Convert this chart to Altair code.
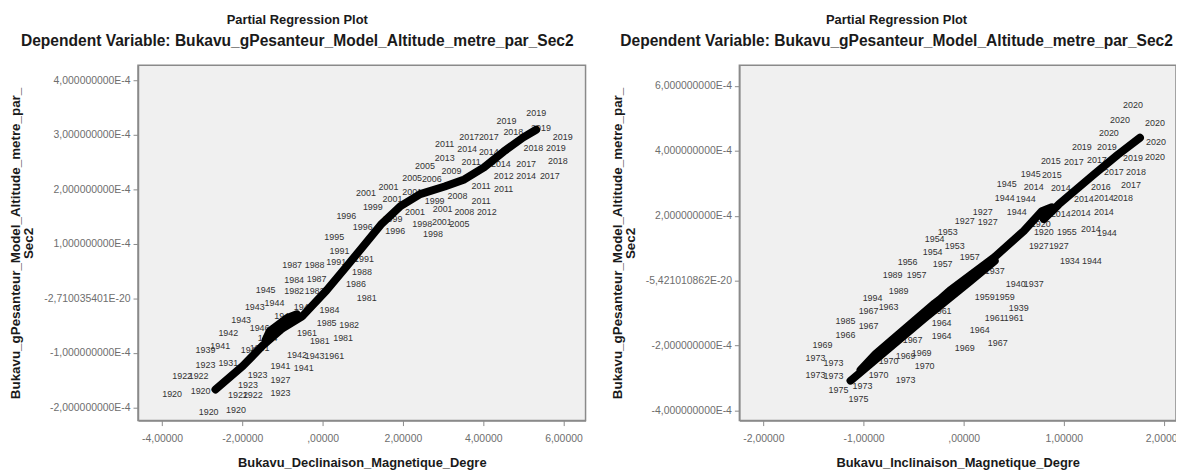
import json
import altair as alt
import pandas as pd

FONT = "Liberation Sans"

# ---------------- Left panel data (x: degrees, y: units of 1e-4) ----------------
left_years = [2019, 2019, 2019, 2019, 2017, 2017, 2018, 2011, 2014, 2014, 2018, 2019,
              2013, 2011, 2014, 2017, 2018, 2005, 2009, 2012, 2014, 2017, 2005, 2006,
              2011, 2011, 2001, 2001, 2001, 2001, 1999, 2008, 2011, 1999, 2001, 2001,
              2008, 2012, 1999, 1998, 2001, 2005, 1996, 1996, 1998, 1996, 1995, 1991,
              1987, 1988, 1991, 1991, 1988, 1986, 1981, 1984, 1987, 1945, 1982, 1982,
              1943, 1944, 1946, 1943, 1944, 1942, 1961, 1985, 1984, 1982, 1939, 1941,
              1981, 1981, 1942, 1942, 1943, 1961, 1923, 1931, 1941, 1941, 1922, 1922,
              1923, 1927, 1920, 1920, 1923, 1922, 1922, 1923, 1920, 1920, 1946, 1944, 1941]
left_x = [5.32, 4.58, 5.44, 5.98, 3.65, 4.14, 4.75, 3.04, 3.60, 4.14, 5.25, 5.81,
          3.04, 3.70, 4.44, 5.07, 5.86, 2.55, 3.21, 4.51, 5.07, 5.66, 2.23, 2.72,
          3.95, 4.51, 1.64, 1.08, 2.23, 1.74, 2.79, 3.36, 3.95, 1.25, 2.30, 2.99,
          3.53, 4.09, 1.74, 2.48, 2.97, 3.41, 1.00, 1.81, 2.75, 0.59, 0.29, 0.42,
          -0.76, -0.20, 0.34, 1.03, 0.98, 0.83, 1.10, -0.71, -0.15, -1.42, -0.71, -0.20,
          -1.69, -1.20, -0.47, -2.03, -0.96, -2.35, -0.39, 0.10, 0.17, 0.66, -2.92, -2.55,
          -0.07, 0.51, -1.79, -0.64, -0.20, 0.29, -2.92, -2.35, -1.05, -0.47, -3.50, -3.09,
          -1.62, -1.05, -3.75, -3.04, -1.86, -2.11, -1.74, -1.05, -2.84, -2.16, -1.57, -1.37, -1.57]
left_y = [3.40, 3.25, 3.13, 2.96, 2.96, 2.95, 3.04, 2.82, 2.73, 2.69, 2.75, 2.75,
          2.58, 2.49, 2.47, 2.47, 2.51, 2.42, 2.33, 2.24, 2.24, 2.24, 2.20, 2.18,
          2.05, 2.00, 2.04, 1.93, 1.95, 1.82, 1.78, 1.87, 1.78, 1.67, 1.58, 1.64,
          1.58, 1.58, 1.45, 1.36, 1.40, 1.36, 1.31, 1.24, 1.18, 1.51, 1.13, 0.87,
          0.62, 0.62, 0.67, 0.73, 0.49, 0.27, 0.00, 0.33, 0.36, 0.15, 0.13, 0.13,
          -0.15, -0.09, -0.15, -0.40, -0.33, -0.64, -0.64, -0.45, -0.22, -0.49, -0.95, -0.87,
          -0.78, -0.73, -0.95, -1.04, -1.05, -1.05, -1.22, -1.18, -1.24, -1.27, -1.42, -1.42,
          -1.40, -1.49, -1.76, -1.69, -1.58, -1.78, -1.78, -1.73, -2.09, -2.05, -0.55, -0.73, -0.91]

left_line_x = [-2.67, -1.99, -1.50, -1.08, -0.64, -0.88, -1.32, -1.42, -1.00, -0.51,
               0.10, 0.59, 0.96, 1.45, 1.94, 2.43, 3.04, 3.53, 4.02, 4.51, 5.00, 5.32]
left_line_y = [-1.67, -1.24, -0.87, -0.60, -0.29, -0.36, -0.60, -0.76, -0.55, -0.33,
               0.15, 0.58, 0.91, 1.35, 1.69, 1.91, 2.05, 2.18, 2.40, 2.69, 2.95, 3.09]

left_xticks = [-4, -2, 0, 2, 4, 6]
left_xlabels = ["-4,00000", "-2,00000", ",00000", "2,00000", "4,00000", "6,00000"]
left_yticks = [4, 3, 2, 1, 0, -1, -2]
left_ylabels = ["4,000000000E-4", "3,000000000E-4", "2,000000000E-4", "1,000000000E-4",
                "-2,710035401E-20", "-1,000000000E-4", "-2,000000000E-4"]

# ---------------- Right panel data ----------------
right_years = [2020, 2020, 2020, 2020, 2019, 2019, 2020, 2015, 2017, 2017, 2019, 1945,
               2015, 2017, 2018, 1945, 2014, 2014, 2016, 2017, 1944, 1944, 2014, 2014,
               2018, 1927, 1944, 2014, 2014, 2014, 1927, 1927, 1920, 1953, 1920, 1955,
               2014, 1944, 1954, 1954, 1956, 1957, 1989, 1957, 1989, 1994, 1963, 1967,
               1961, 1985, 1967, 1964, 1966, 1967, 1964, 1969, 1969, 1973, 1973, 1970,
               1969, 1970, 1973, 1973, 1970, 1973, 1975, 1973, 1975, 1927, 1927, 1934,
               1944, 1937, 1940, 1937, 1959, 1959, 1939, 1961, 1961, 1964, 1967, 1969,
               1953, 1957, 2020]
right_x = [1.69, 1.56, 1.91, 1.45, 1.18, 1.43, 1.91, 0.87, 1.10, 1.33, 1.69, 0.67,
           0.88, 1.50, 1.72, 0.43, 0.70, 0.97, 1.37, 1.67, 0.41, 0.62, 1.20, 1.40,
           1.59, 0.19, 0.53, 0.97, 1.17, 1.40, 0.01, 0.24, 0.77, -0.16, 0.80, 1.03,
           1.27, 1.43, -0.29, -0.31, -0.56, -0.21, -0.71, -0.47, -0.65, -0.91, -0.75, -0.95,
           -0.22, -1.18, -0.95, -0.22, -1.18, -0.51, -0.22, -1.41, -0.42, -1.48, -1.30, -0.75,
           -0.58, -0.39, -1.48, -1.30, -0.85, -0.58, -1.25, -1.01, -1.05, 0.75, 0.95, 1.06,
           1.28, 0.31, 0.52, 0.70, 0.21, 0.41, 0.55, 0.31, 0.50, 0.16, 0.34, 0.01,
           -0.09, 0.06, 1.92]
right_y = [5.40, 4.95, 4.86, 4.55, 4.12, 4.12, 3.82, 3.69, 3.66, 3.73, 3.79, 3.27,
           3.24, 3.33, 3.33, 2.99, 2.87, 2.84, 2.87, 2.93, 2.53, 2.50, 2.50, 2.53,
           2.53, 2.11, 2.11, 2.05, 2.08, 2.11, 1.83, 1.80, 1.74, 1.50, 1.50, 1.50,
           1.59, 1.47, 1.28, 0.89, 0.58, 0.52, 0.18, 0.18, -0.31, -0.55, -0.82, -0.95,
           -0.92, -1.25, -1.40, -1.31, -1.68, -1.83, -1.71, -1.98, -2.23, -2.38, -2.53, -2.47,
           -2.32, -2.63, -2.90, -2.93, -2.90, -3.05, -3.36, -3.24, -3.66, 1.07, 1.07, 0.61,
           0.61, 0.31, -0.09, -0.09, -0.49, -0.49, -0.85, -1.16, -1.16, -1.53, -1.92, -2.08,
           1.07, 0.73, 4.27]

right_line_x = [-1.13, -0.39, 0.06, 0.31, 0.16, -0.29, -0.88, -1.03, -0.63, -0.14,
                0.31, 0.60, 0.78, 0.88, 0.80, 0.95, 1.30, 1.54, 1.76]
right_line_y = [-3.08, -1.16, -0.03, 0.61, 0.37, -0.70, -2.26, -2.75, -1.65, -0.31,
                0.73, 1.53, 2.14, 2.26, 1.89, 2.35, 3.27, 3.88, 4.40]

right_xticks = [-2, -1, 0, 1, 2]
right_xlabels = ["-2,00000", "-1,00000", ",00000", "1,00000", "2,00000"]
right_yticks = [6, 4, 2, 0, -2, -4]
right_ylabels = ["6,000000000E-4", "4,000000000E-4", "2,000000000E-4",
                 "-5,421010862E-20", "-2,000000000E-4", "-4,000000000E-4"]

main_title = "Partial Regression Plot"
sub_title = "Dependent Variable: Bukavu_gPesanteur_Model_Altitude_metre_par_Sec2"
y_title = ["Bukavu_gPesanteur_Model_Altitude_metre_par_", "Sec2"]


def label_expr(ticks, labels):
    return f"{json.dumps(labels)}[indexof({json.dumps(ticks)}, datum.value)]"


def panel(years, xs, ys, lx, ly, xdom, ydom, xticks, xlabels, yticks, ylabels, xtitle, w, h):
    pts = pd.DataFrame({"x": xs, "y": ys, "year": [str(v) for v in years]})
    ln = pd.DataFrame({"x": lx, "y": ly, "i": list(range(len(lx)))})
    xs_ = alt.Scale(domain=xdom, nice=False, zero=False)
    ys_ = alt.Scale(domain=ydom, nice=False, zero=False)
    xax = alt.Axis(values=xticks, labelExpr=label_expr(xticks, xlabels), title=xtitle,
                   labelPadding=8, titlePadding=13)
    yax = alt.Axis(values=yticks, labelExpr=label_expr(yticks, ylabels), title=y_title,
                   minExtent=95, maxExtent=95, titlePadding=8, titleLineHeight=13,
                   titleFontSize=13.5)
    text = alt.Chart(pts).mark_text(font=FONT, fontSize=9, color="#333333").encode(
        x=alt.X("x:Q", scale=xs_, axis=xax),
        y=alt.Y("y:Q", scale=ys_, axis=yax),
        text="year:N",
    )
    line = alt.Chart(ln).mark_line(color="black", strokeWidth=8, strokeCap="round",
                                   strokeJoin="round").encode(
        x=alt.X("x:Q", scale=xs_),
        y=alt.Y("y:Q", scale=ys_),
        order="i:Q",
    )
    return alt.layer(text, line).properties(
        width=w, height=h,
        title=alt.Title(text=main_title, subtitle=sub_title, anchor="middle", frame="bounds",
                        font=FONT, fontSize=13, fontWeight="bold", color="#1a1a1a",
                        subtitleFont=FONT, subtitleFontSize=15.7, subtitleFontWeight="bold",
                        subtitleColor="#1a1a1a", subtitlePadding=7, offset=16.5),
    )


left = panel(left_years, left_x, left_y, left_line_x, left_line_y,
             [-4.6, 6.55], [-2.24, 4.27], left_xticks, left_xlabels,
             left_yticks, left_ylabels, "Bukavu_Declinaison_Magnetique_Degre", 451, 358)
right = panel(right_years, right_x, right_y, right_line_x, right_line_y,
              [-2.24, 2.12], [-4.31, 6.63], right_xticks, right_xlabels,
              right_yticks, right_ylabels, "Bukavu_Inclinaison_Magnetique_Degre", 440, 358)

chart = alt.hconcat(left, right, spacing=23).properties(
    padding={"left": 0, "top": 4, "right": -8, "bottom": 0},
    background="white",
).configure_view(
    fill="#f0f0f0", stroke="#8a8a8a", strokeWidth=1.5
).configure_axis(
    grid=False, labelFont=FONT, labelFontSize=10.5, labelColor="#6e6e6e",
    tickSize=5, tickColor="#8a8a8a", domainColor="#8a8a8a", domainWidth=1.5,
    labelPadding=3, titleFont=FONT, titleFontSize=13, titleFontWeight="bold",
    titleColor="#1a1a1a",
)

chart.save("out.html", embed_options={"renderer": "svg", "actions": False})
